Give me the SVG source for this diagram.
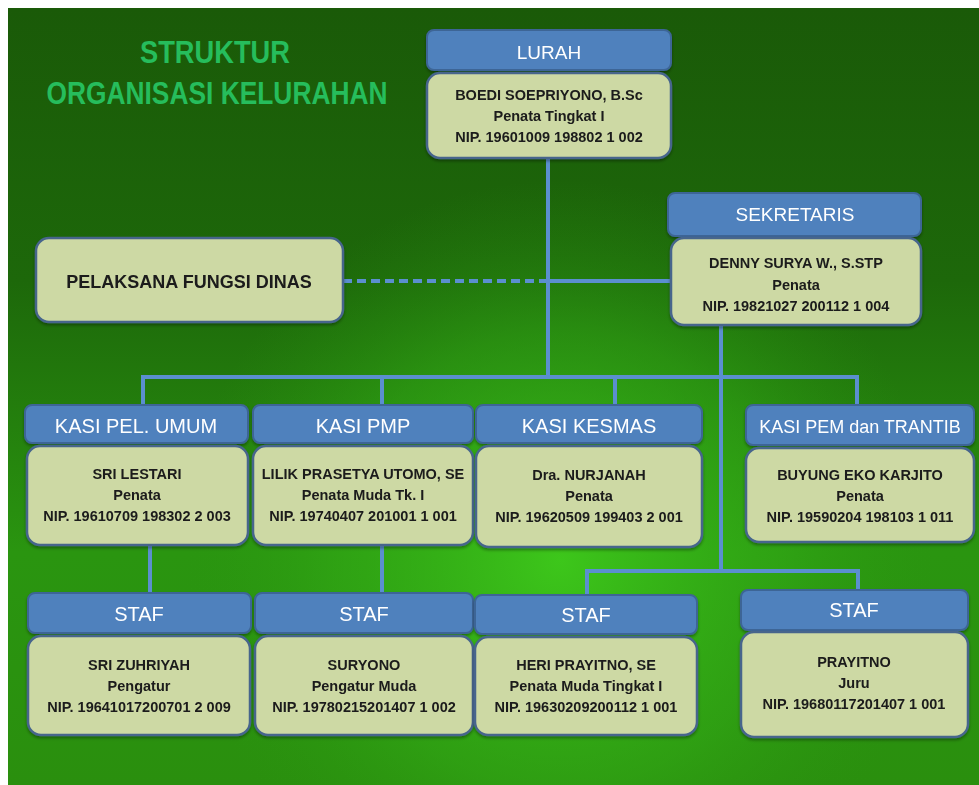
<svg xmlns="http://www.w3.org/2000/svg" width="979" height="785" viewBox="0 0 979 785" xml:space="preserve">
<defs>
<linearGradient id="bg" x1="0" y1="0" x2="0" y2="1">
<stop offset="0" stop-color="#1a5a08"/>
<stop offset="0.35" stop-color="#1d680a"/>
<stop offset="0.7" stop-color="#2a9510"/>
<stop offset="1" stop-color="#2a8f0e"/>
</linearGradient>
<radialGradient id="glow" cx="560" cy="560" r="380" gradientUnits="userSpaceOnUse">
<stop offset="0" stop-color="#3fcc1c" stop-opacity="0.9"/>
<stop offset="0.6" stop-color="#34b017" stop-opacity="0.45"/>
<stop offset="1" stop-color="#2a9510" stop-opacity="0"/>
</radialGradient>
<filter id="sh" x="-5%" y="-5%" width="110%" height="120%">
<feDropShadow dx="0" dy="2" stdDeviation="1.5" flood-color="#000" flood-opacity="0.35"/>
</filter>
<style>
.hd{fill:#4f81bd;stroke:#3d6596;stroke-width:2}
.bd{fill:#cdd9a4;stroke:#46658c;stroke-width:2.5}
.ht{font-family:"Liberation Sans",Arial,sans-serif;fill:#ffffff;text-anchor:middle}
.bt{font-family:"Liberation Sans",Arial,sans-serif;font-weight:bold;font-size:14.5px;fill:#1a1a1a;text-anchor:middle}
.ln{stroke:#5b8fcf;stroke-width:4;fill:none}
.title{font-family:"Liberation Sans",Arial,sans-serif;font-weight:bold;font-size:31px;fill:#26bd5c;text-anchor:middle}
</style>
</defs>
<rect x="0" y="0" width="979" height="785" fill="#ffffff"/>
<rect x="8" y="8" width="971" height="777" fill="url(#bg)"/>
<rect x="8" y="8" width="971" height="777" fill="url(#glow)"/>
<g id="title">
<text class="title" x="215" y="63" textLength="150" lengthAdjust="spacingAndGlyphs">STRUKTUR</text>
<text class="title" x="217" y="104" textLength="341" lengthAdjust="spacingAndGlyphs">ORGANISASI KELURAHAN</text>
</g>
<g id="connectors">
<path class="ln" d="M548 158V377M548 281H670M143 377H857M143 375V405M382 377V405M615 377V405M857 375V405M721 325V571M587 571H858M587 569V595M858 569V590M150 545V593M382 545V593"/>
<path class="ln" d="M343 281H548" stroke-dasharray="9 5"/>
</g>
<g id="lurah" filter="url(#sh)">
<rect class="hd" x="427" y="30" width="244" height="40" rx="7"/>
<text class="ht" x="549" y="59" font-size="19">LURAH</text>
<rect class="bd" x="427" y="73" width="244" height="85" rx="13"/>
<text class="bt" x="549" y="100">BOEDI SOEPRIYONO, B.Sc</text>
<text class="bt" x="549" y="121">Penata Tingkat I</text>
<text class="bt" x="549" y="142">NIP. 19601009  198802 1 002</text>
</g>
<g id="sekretaris" filter="url(#sh)">
<rect class="hd" x="668" y="193" width="253" height="43" rx="7"/>
<text class="ht" x="795" y="221" font-size="19">SEKRETARIS</text>
<rect class="bd" x="671" y="238" width="250" height="87" rx="13"/>
<text class="bt" x="796" y="268">DENNY SURYA W., S.STP</text>
<text class="bt" x="796" y="290">Penata</text>
<text class="bt" x="796" y="311">NIP. 19821027 200112 1 004</text>
</g>
<g id="pelaksana" filter="url(#sh)">
<rect class="bd" x="36" y="238" width="307" height="84" rx="13"/>
<text class="bt" x="189" y="288" style="font-size:18px">PELAKSANA FUNGSI DINAS</text>
</g>
<g id="kasi-pel-umum" filter="url(#sh)">
<rect class="hd" x="25" y="405" width="223" height="38" rx="7"/>
<text class="ht" x="136" y="433" font-size="20">KASI PEL. UMUM</text>
<rect class="bd" x="27" y="446" width="221" height="99" rx="13"/>
<text class="bt" x="137" y="479">SRI LESTARI</text>
<text class="bt" x="137" y="500">Penata</text>
<text class="bt" x="137" y="521">NIP. 19610709  198302 2 003</text>
</g>
<g id="kasi-pmp" filter="url(#sh)">
<rect class="hd" x="253" y="405" width="220" height="38" rx="7"/>
<text class="ht" x="363" y="433" font-size="20">KASI PMP</text>
<rect class="bd" x="253" y="446" width="220" height="99" rx="13"/>
<text class="bt" x="363" y="479">LILIK PRASETYA UTOMO, SE</text>
<text class="bt" x="363" y="500">Penata Muda Tk. I</text>
<text class="bt" x="363" y="521">NIP. 19740407 201001 1 001</text>
</g>
<g id="kasi-kesmas" filter="url(#sh)">
<rect class="hd" x="476" y="405" width="226" height="38" rx="7"/>
<text class="ht" x="589" y="433" font-size="20">KASI KESMAS</text>
<rect class="bd" x="476" y="446" width="226" height="101" rx="13"/>
<text class="bt" x="589" y="480">Dra. NURJANAH</text>
<text class="bt" x="589" y="501">Penata</text>
<text class="bt" x="589" y="522">NIP. 19620509  199403 2 001</text>
</g>
<g id="kasi-pem-trantib" filter="url(#sh)">
<rect class="hd" x="746" y="405" width="228" height="40" rx="7"/>
<text class="ht" x="860" y="433" font-size="18">KASI PEM dan TRANTIB</text>
<rect class="bd" x="746" y="448" width="228" height="94" rx="13"/>
<text class="bt" x="860" y="480">BUYUNG  EKO KARJITO</text>
<text class="bt" x="860" y="501">Penata</text>
<text class="bt" x="860" y="522">NIP. 19590204 198103 1 011</text>
</g>
<g id="staf-1" filter="url(#sh)">
<rect class="hd" x="28" y="593" width="223" height="40" rx="7"/>
<text class="ht" x="139" y="621" font-size="20">STAF</text>
<rect class="bd" x="28" y="636" width="222" height="99" rx="13"/>
<text class="bt" x="139" y="670">SRI ZUHRIYAH</text>
<text class="bt" x="139" y="691">Pengatur</text>
<text class="bt" x="139" y="712">NIP. 19641017200701  2 009</text>
</g>
<g id="staf-2" filter="url(#sh)">
<rect class="hd" x="255" y="593" width="218" height="40" rx="7"/>
<text class="ht" x="364" y="621" font-size="20">STAF</text>
<rect class="bd" x="255" y="636" width="218" height="99" rx="13"/>
<text class="bt" x="364" y="670">SURYONO</text>
<text class="bt" x="364" y="691">Pengatur Muda</text>
<text class="bt" x="364" y="712">NIP. 19780215201407  1 002</text>
</g>
<g id="staf-3" filter="url(#sh)">
<rect class="hd" x="475" y="595" width="222" height="39" rx="7"/>
<text class="ht" x="586" y="622" font-size="20">STAF</text>
<rect class="bd" x="475" y="637" width="222" height="98" rx="13"/>
<text class="bt" x="586" y="670">HERI PRAYITNO, SE</text>
<text class="bt" x="586" y="691">Penata Muda Tingkat I</text>
<text class="bt" x="586" y="712">NIP. 19630209200112  1 001</text>
</g>
<g id="staf-4" filter="url(#sh)">
<rect class="hd" x="741" y="590" width="227" height="40" rx="7"/>
<text class="ht" x="854" y="617" font-size="20">STAF</text>
<rect class="bd" x="741" y="632" width="227" height="105" rx="13"/>
<text class="bt" x="854" y="667">PRAYITNO</text>
<text class="bt" x="854" y="688">Juru</text>
<text class="bt" x="854" y="709">NIP. 19680117201407  1 001</text>
</g>
</svg>
